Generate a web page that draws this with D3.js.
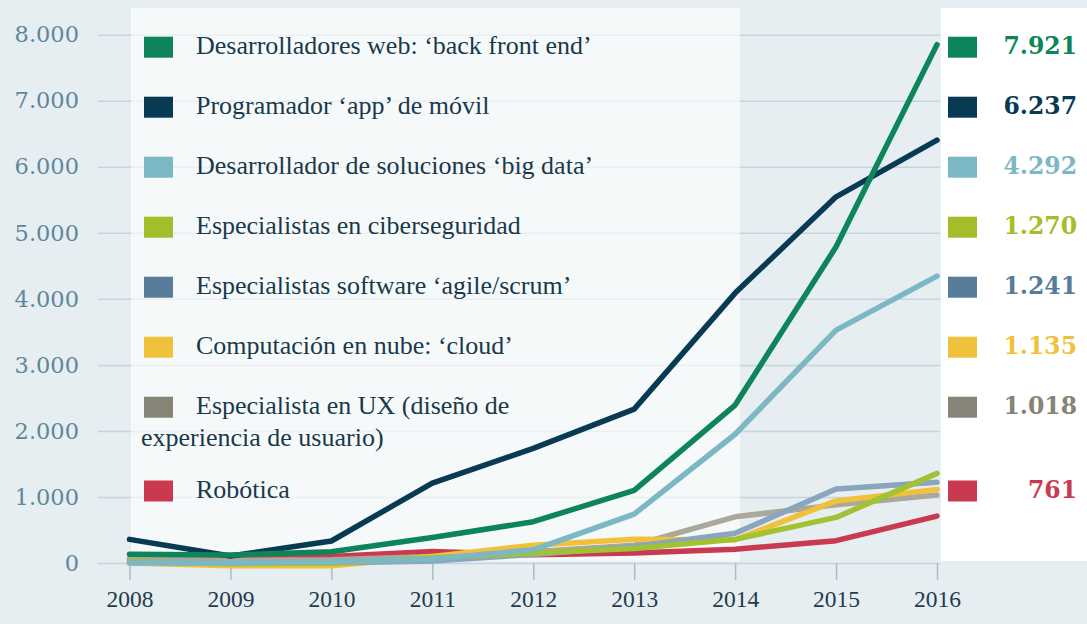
<!DOCTYPE html>
<html><head><meta charset="utf-8">
<script src="https://cdn.jsdelivr.net/npm/d3@7"></script>
<style>body{margin:0;background:#e7eef2;} svg{display:block}</style>
</head><body><svg id="c" width="1087" height="624"></svg>
<script>
// ---- data ----
const years = [2008, 2009, 2010, 2011, 2012, 2013, 2014, 2015, 2016];
const seriesNames = [
  "Desarrolladores web: ‘back front end’",
  "Programador ‘app’ de móvil",
  "Desarrollador de soluciones ‘big data’",
  "Especialistas en ciberseguridad",
  "Especialistas software ‘agile/scrum’",
  "Computación en nube: ‘cloud’",
  "Especialista en UX (diseño de|experiencia de usuario)",
  "Robótica"
];
const webValues    = [131, 121, 171, 385, 625, 1100, 2392, 4788, 7850];
const appValues    = [358, 106, 333, 1210, 1736, 2330, 4087, 5545, 6403];
const bigDataValues= [0, 0, 20, 60, 200, 740, 1950, 3527, 4345];
const cyberValues  = [20, -10, 0, 80, 150, 220, 358, 690, 1357];
const agileValues  = [20, 0, 0, 30, 130, 250, 449, 1120, 1221];
const cloudValues  = [0, -40, -40, 100, 270, 360, 350, 940, 1115];
const uxValues     = [70, 40, 50, 100, 170, 270, 700, 880, 1030];
const roboValues   = [60, 60, 100, 175, 125, 150, 207, 338, 711];
const finalLabels  = [7921, 6237, 4292, 1270, 1241, 1135, 1018, 761];
const yTicks = [0, 1000, 2000, 3000, 4000, 5000, 6000, 7000, 8000];

const allValues = [webValues, appValues, bigDataValues, cyberValues, agileValues, cloudValues, uxValues, roboValues];
const swatchColors = ["#0d845a", "#083a54", "#7cb7c4", "#a3bd2b", "#587d9a", "#f0c13a", "#868476", "#c93a51"];
const lineColors   = ["#0d845a", "#083a54", "#7cb7c4", "#a2c133", "#8aa5be", "#f0c13a", "#aaa89b", "#c93a51"];

// ---- chart ----
const svg = d3.select("#c");
const W = 1087, H = 624;
const x = d3.scaleLinear().domain([2008, 2016]).range([129.5, 937]);
const y = d3.scaleLinear().domain([0, 8000]).range([563, 34.7]);
const loc = d3.formatLocale({decimal: ",", thousands: ".", grouping: [3], currency: ["", "€"]});
const fmt = loc.format(",d");

svg.append("rect").attr("width", W).attr("height", H).attr("fill", "#e7eef2");

// gridlines + y labels
const gy = svg.append("g").attr("transform", "translate(98,0)")
  .call(d3.axisLeft(y).tickValues(yTicks).tickSize(-(940 - 98)).tickPadding(19).tickFormat(fmt));
gy.select(".domain").remove();
gy.selectAll(".tick line").attr("stroke", "#c6d4dd").attr("stroke-width", 1.5);
gy.selectAll(".tick text").attr("fill", "#5f879c")
  .style("font-family", "'DejaVu Serif'").style("font-size", "22.5px");

// panels
svg.append("rect").attr("x", 131).attr("y", 8).attr("width", 740 - 131).attr("height", 561 - 8)
  .attr("fill", "#ffffff").attr("fill-opacity", 0.62);
svg.append("rect").attr("x", 941).attr("y", 8).attr("width", W - 941).attr("height", 561 - 8)
  .attr("fill", "#ffffff");

// x axis
const gx = svg.append("g").attr("transform", "translate(0,563)")
  .call(d3.axisBottom(x).tickValues(years).tickSize(17).tickPadding(10).tickFormat(d3.format("d")));
gx.select(".domain").remove();
gx.selectAll(".tick line").attr("stroke", "#a9bccb").attr("stroke-width", 1.5);
gx.selectAll(".tick text").attr("fill", "#1f3b4d")
  .style("font-family", "'Liberation Serif'").style("font-size", "23.5px");

// lines (drawn bottom-up: last legend entry first)
const line = d3.line().x((d, i) => x(years[i])).y(d => y(d));
const order = d3.range(allValues.length).reverse();
svg.append("g").selectAll("path").data(order).join("path")
  .attr("d", i => line(allValues[i]))
  .attr("fill", "none")
  .attr("stroke", i => lineColors[i])
  .attr("stroke-width", 5.5)
  .attr("stroke-linecap", "round")
  .attr("stroke-linejoin", "round");

// legend
const rowTop = [36.7, 96.7, 156.7, 216.7, 276.7, 336.7, 396.7, 480.5];
const leg = svg.append("g");
seriesNames.forEach((name, i) => {
  leg.append("rect").attr("x", 144).attr("y", rowTop[i]).attr("width", 29).attr("height", 21)
    .attr("fill", swatchColors[i]);
  const parts = name.split("|");
  parts.forEach((p, j) => {
    leg.append("text").attr("x", j === 0 ? 196 : 141).attr("y", rowTop[i] + 17 + j * 32)
      .attr("fill", "#1a394b")
      .style("font-family", "'Liberation Serif'").style("font-size", "26px")
      .text(p);
  });
  // right value labels
  leg.append("rect").attr("x", 948).attr("y", rowTop[i]).attr("width", 29).attr("height", 21)
    .attr("fill", swatchColors[i]);
  leg.append("text").attr("x", 1077).attr("y", rowTop[i] + 17.5)
    .attr("text-anchor", "end")
    .attr("fill", swatchColors[i])
    .style("font-family", "'DejaVu Serif'").style("font-weight", "bold").style("font-size", "23.5px")
    .text(fmt(finalLabels[i]));
});
</script></body></html>
